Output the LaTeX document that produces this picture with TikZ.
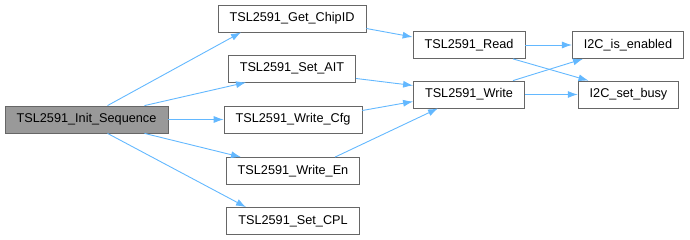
\documentclass[tikz,border=0pt]{standalone}
\usepackage{fontspec}
\setmainfont{Liberation Sans}
\usetikzlibrary{arrows.meta}
\definecolor{edgeblue}{HTML}{63B8FF}
\definecolor{boxline}{HTML}{666666}
\definecolor{rootfill}{HTML}{999999}
\begin{document}
\begin{tikzpicture}[x=1pt, y=1pt]
        \useasboundingbox (0,0) rectangle (690,240);

        \begin{scope}[every node/.style={rectangle, draw=boxline, fill=white, line width=0.8pt,
            minimum height=27pt, inner xsep=11.5pt, inner ysep=0pt,
            font=\fontsize{12.7}{15}\selectfont}]
            \node[fill=rootfill] (init) at (86.5, 120.5) {TSL2591\_Init\_Sequence};
            \node (getid) at (292, 221.5) {TSL2591\_Get\_ChipID};
            \node (setait) at (292, 171.5) {TSL2591\_Set\_AIT};
            \node (writecfg) at (293, 120.5) {TSL2591\_Write\_Cfg};
            \node (writeen) at (293, 69) {TSL2591\_Write\_En};
            \node (setcpl) at (293, 19) {TSL2591\_Set\_CPL};
            \node (read) at (469, 195) {TSL2591\_Read};
            \node (write) at (469, 145.5) {TSL2591\_Write};
            \node (isen) at (628, 195) {I2C\_is\_enabled};
            \node (busy) at (628.5, 145.5) {I2C\_set\_busy};
        \end{scope}

        \begin{scope}[
            every edge/.style={draw=edgeblue, line width=0.9pt},
            >={Latex[length=10pt, width=7pt]}]
            \path [->] ([xshift=21pt]init.north) edge ([xshift=-51pt]getid.south);
            \path [->] ([xshift=58pt]init.north) edge ([xshift=-46pt]setait.south);
            \path [->] (init.east) edge (writecfg.west);
            \path [->] ([xshift=58pt]init.south) edge ([xshift=-52pt]writeen.north);
            \path [->] ([xshift=21pt]init.south) edge ([xshift=-47pt]setcpl.north);

            \path [->] ([yshift=-10pt]getid.east) edge ([yshift=8pt]read.west);
            \path [->] ([yshift=-10pt]setait.east) edge ([yshift=9pt]write.west);
            \path [->] ([yshift=9pt]writecfg.east) edge ([yshift=-7pt]write.west);
            \path [->] ([xshift=42pt]writeen.north) edge ([xshift=-31pt]write.south);

            \path [->] (read.east) edge (isen.west);
            \path [->] ([xshift=44pt]read.south) edge ([xshift=-40pt]busy.north);
            \path [->] ([xshift=44pt]write.north) edge ([xshift=-45pt]isen.south);
            \path [->] (write.east) edge (busy.west);
        \end{scope}
\end{tikzpicture}
\end{document}
